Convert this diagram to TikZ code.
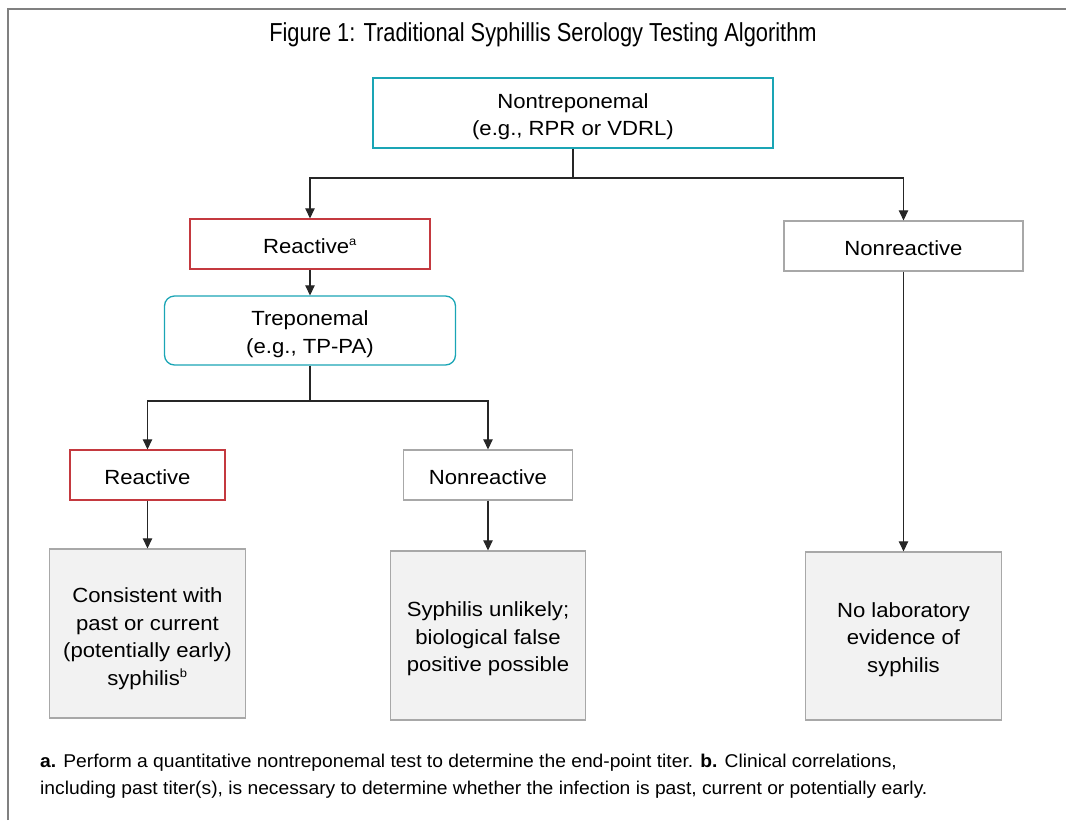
\documentclass[tikz,border=0pt]{standalone}
\usepackage{fontspec}
\setmainfont{Liberation Sans}[FakeStretch=1.08]
\newfontfamily\condfont[FakeStretch=0.84]{Liberation Sans}
\newfontfamily\footfont[FakeStretch=1.04]{Liberation Sans}
\usetikzlibrary{arrows.meta}
\definecolor{teal1}{HTML}{1AA5B5}
\definecolor{red1}{HTML}{C4393F}
\definecolor{gray1}{HTML}{A8A8A8}
\definecolor{fill1}{HTML}{F2F2F2}
\definecolor{frame1}{HTML}{808080}
\begin{document}
\begin{tikzpicture}[x=1pt,y=-1pt,
  every node/.style={font=\fontsize{20.5}{27.5}\selectfont, align=center, inner sep=0pt},
  testbox/.style={draw=teal1, line width=1.3pt},
  posbox/.style={draw=red1, line width=1.3pt},
  negbox/.style={draw=gray1, line width=1.3pt},
  resbox/.style={draw=gray1, fill=fill1, line width=1.3pt},
  txt1/.style={yshift=-2pt},
  txt2/.style={yshift=-3.5pt},
  conn/.style={draw=black!85, line width=1.1pt},
  arr/.style={conn, -{Triangle[length=10pt,width=9.5pt]}}
]
\useasboundingbox (0,0) rectangle (1066,820);
\draw[frame1, line width=2pt] (8,820) -- (8,8.5) -- (1066,8.5);

\node (title) at (543,35) {\condfont\fontsize{26}{30}\selectfont Figure 1: Traditional Syphillis Serology Testing Algorithm};

\node[testbox, minimum width=400pt, minimum height=70pt] (nt) at (573,113) {};
\node[txt2] (ntt) at (nt.center) {Nontreponemal\\(e.g., RPR or VDRL)};
\node[posbox, minimum width=240pt, minimum height=50pt] (r1) at (310,244) {};
\node[txt1] (r1t) at (r1.center) {Reactive\textsuperscript{\fontsize{12}{12}\selectfont a}};
\node[negbox, minimum width=239pt, minimum height=50pt] (n1) at (903.5,246) {};
\node[txt1] (n1t) at (n1.center) {Nonreactive};
\node[testbox, rounded corners=10pt, minimum width=291pt, minimum height=69pt] (tp) at (310,330.5) {};
\node[txt2] (tpt) at (tp.center) {Treponemal\\(e.g., TP-PA)};
\node[posbox, minimum width=155pt, minimum height=50pt] (r2) at (147.5,475) {};
\node[txt1] (r2t) at (r2.center) {Reactive};
\node[negbox, minimum width=169pt, minimum height=50pt] (n2) at (488,475) {};
\node[txt1] (n2t) at (n2.center) {Nonreactive};
\node[resbox, minimum width=196pt, minimum height=169pt] (c1) at (147.5,633.5) {};
\node[yshift=-5pt] (c1t) at (c1.center) {Consistent with\\past or current\\(potentially early)\\syphilis\textsuperscript{\fontsize{12}{12}\selectfont b}};
\node[resbox, minimum width=195pt, minimum height=169pt] (c2) at (488,635.5) {};
\node[txt2] (c2t) at (c2.center) {Syphilis unlikely;\\biological false\\positive possible};
\node[resbox, minimum width=196pt, minimum height=168pt] (c3) at (903.5,636) {};
\node[txt2] (c3t) at (c3.center) {No laboratory\\evidence of\\syphilis};

\coordinate (j1) at (573,178);
\coordinate (j2) at (310,401);
\draw[conn] (nt.south) -- (j1);
\draw[arr] (j1) -| (r1.north);
\draw[arr] (j1) -| (n1.north);
\draw[arr] (r1.south) -- (tp.north);
\draw[conn] (tp.south) -- (j2);
\draw[arr] (j2) -| (r2.north);
\draw[arr] (j2) -| (n2.north);
\draw[arr] (r2.south) -- (c1.north);
\draw[arr] (n2.south) -- (c2.north);
\draw[arr] (n1.south) -- (c3.north);

\node[anchor=west, align=left, font=\footfont\fontsize{18.5}{27}\selectfont] (fn) at (40,776) {\textbf{a.} Perform a quantitative nontreponemal test to determine the end-point titer. \textbf{b.} Clinical correlations,\\including past titer(s), is necessary to determine whether the infection is past, current or potentially early.};
\end{tikzpicture}
\end{document}
